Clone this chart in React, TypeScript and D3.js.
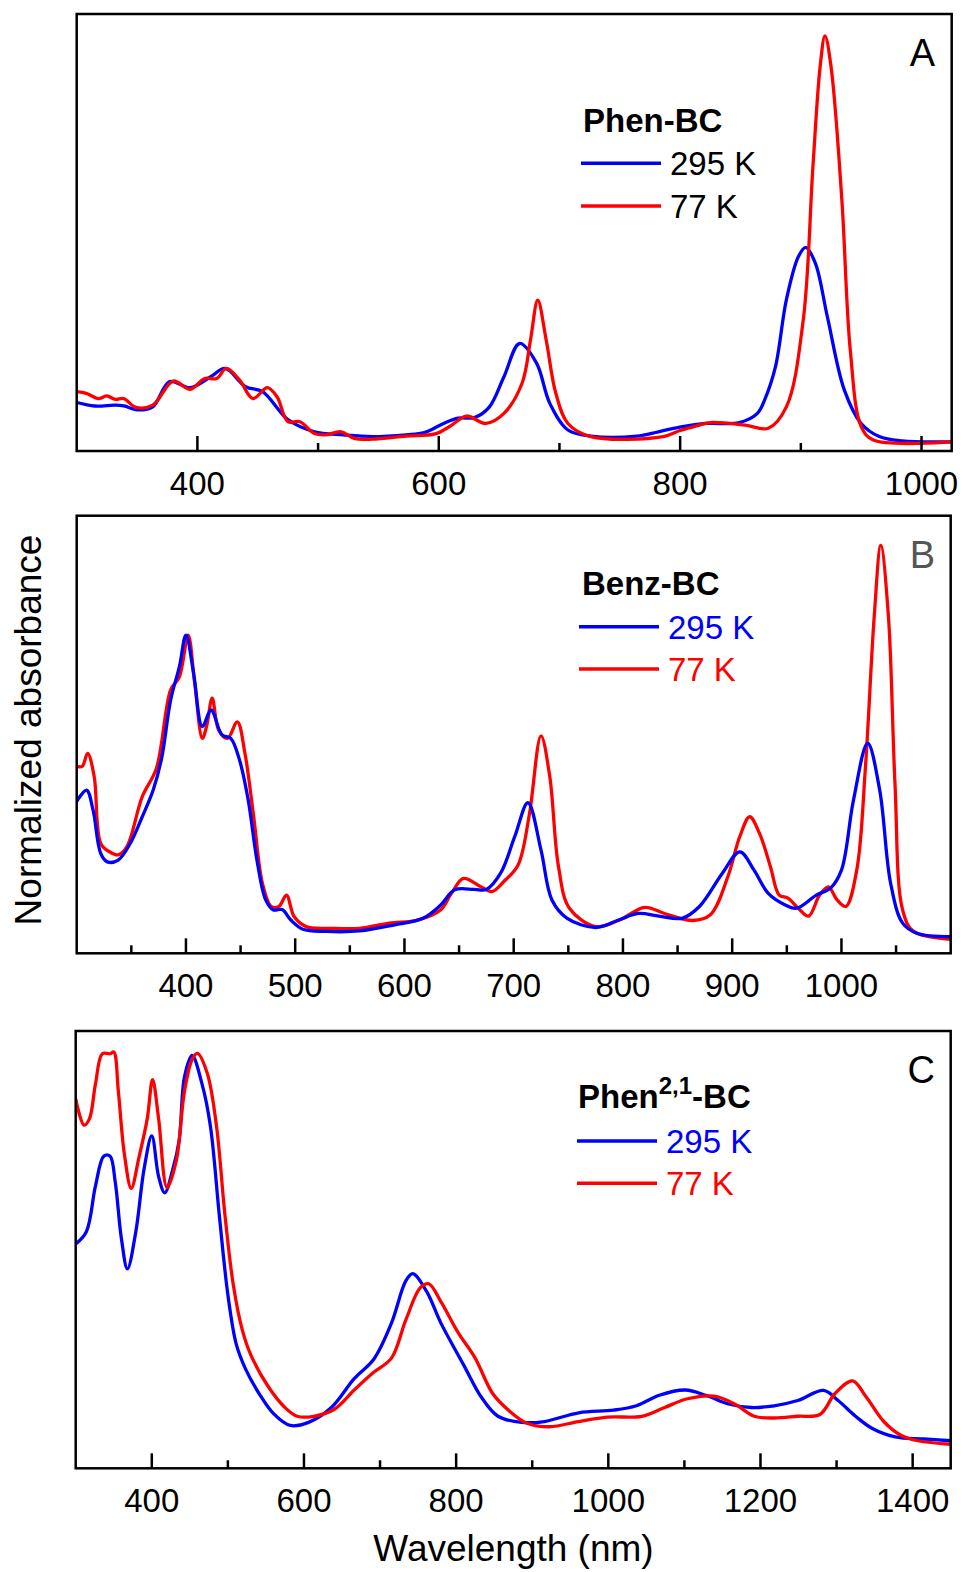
import React from "react";
import * as d3 from "d3";

type Pt = [number, number];

// Panel A: Phen-BC
const phen295: Pt[] = [[300,0.111],[315,0.103],[332,0.105],[339,0.103],[351,0.094],[363,0.101],[377,0.159],[394,0.145],[411,0.170],[423,0.189],[440,0.147],[454,0.136],[475,0.072],[497,0.044],[521,0.037],[545,0.033],[573,0.037],[588,0.042],[604,0.063],[616,0.075],[630,0.077],[642,0.101],[654,0.170],[667,0.246],[681,0.201],[692,0.109],[707,0.048],[726,0.034],[764,0.034],[782,0.044],[802,0.056],[821,0.063],[849,0.065],[864,0.086],[870,0.117],[879,0.193],[888,0.346],[898,0.445],[904,0.466],[912,0.43],[922,0.307],[936,0.14],[950,0.063],[965,0.033],[984,0.023],[1025,0.021]];
const phen77: Pt[] = [[300,0.136],[308,0.132],[318,0.12],[325,0.126],[332,0.118],[339,0.12],[349,0.10],[363,0.105],[380,0.16],[394,0.141],[406,0.166],[416,0.166],[424,0.189],[435,0.162],[446,0.12],[458,0.145],[466,0.124],[475,0.067],[485,0.067],[497,0.040],[506,0.037],[519,0.044],[530,0.029],[545,0.027],[573,0.034],[597,0.039],[609,0.056],[623,0.08],[639,0.063],[654,0.086],[669,0.155],[676,0.254],[682,0.345],[689,0.254],[697,0.132],[707,0.063],[726,0.033],[786,0.033],[800,0.047],[812,0.056],[825,0.065],[854,0.059],[873,0.052],[888,0.101],[902,0.3],[910,0.65],[916,0.88],[920,0.95],[925,0.88],[934,0.574],[941,0.23],[950,0.056],[960,0.025],[1025,0.021]];

// Panel B: Benz-BC
const benz295: Pt[] = [[300,0.347],[309,0.373],[315,0.327],[322,0.228],[328,0.209],[338,0.213],[349,0.251],[360,0.312],[370,0.373],[378,0.449],[386,0.579],[394,0.655],[400,0.727],[407,0.64],[415,0.518],[423,0.556],[433,0.499],[441,0.491],[449,0.442],[457,0.35],[465,0.213],[473,0.122],[480,0.099],[488,0.10],[496,0.076],[507,0.055],[528,0.05],[559,0.051],[591,0.065],[617,0.08],[633,0.11],[646,0.145],[664,0.146],[675,0.146],[688,0.183],[701,0.267],[713,0.344],[725,0.236],[735,0.122],[749,0.08],[775,0.059],[796,0.076],[814,0.091],[833,0.085],[854,0.08],[870,0.107],[891,0.183],[907,0.232],[920,0.19],[933,0.137],[949,0.11],[959,0.103],[977,0.133],[990,0.149],[1000,0.19],[1011,0.35],[1024,0.48],[1035,0.373],[1045,0.16],[1056,0.069],[1069,0.046],[1100,0.038]];
const benz77: Pt[] = [[300,0.427],[305,0.427],[310,0.457],[316,0.404],[322,0.251],[330,0.232],[338,0.225],[346,0.244],[360,0.358],[373,0.423],[386,0.602],[394,0.632],[402,0.727],[408,0.617],[415,0.491],[419,0.52],[424,0.583],[430,0.51],[438,0.491],[447,0.529],[454,0.457],[462,0.312],[470,0.16],[478,0.107],[485,0.107],[492,0.133],[499,0.084],[510,0.061],[533,0.057],[559,0.057],[586,0.069],[612,0.076],[633,0.099],[643,0.137],[654,0.171],[670,0.152],[680,0.141],[691,0.164],[704,0.202],[714,0.312],[725,0.497],[733,0.404],[741,0.198],[751,0.103],[775,0.061],[796,0.075],[820,0.105],[838,0.091],[864,0.075],[880,0.088],[896,0.175],[907,0.267],[916,0.312],[925,0.274],[935,0.198],[943,0.133],[951,0.126],[962,0.099],[970,0.085],[980,0.133],[988,0.152],[996,0.122],[1004,0.107],[1014,0.19],[1022,0.427],[1030,0.77],[1036,0.932],[1043,0.77],[1049,0.388],[1056,0.099],[1066,0.05],[1100,0.032]];

// Panel C: Phen2,1-BC
const phen21_295: Pt[] = [[300,0.513],[314,0.541],[326,0.646],[337,0.714],[345,0.714],[352,0.654],[360,0.526],[368,0.456],[379,0.541],[390,0.686],[400,0.76],[409,0.667],[417,0.63],[428,0.686],[436,0.75],[443,0.895],[453,0.944],[466,0.879],[477,0.783],[489,0.574],[500,0.397],[511,0.284],[523,0.228],[541,0.171],[560,0.125],[582,0.098],[606,0.105],[636,0.139],[666,0.205],[692,0.25],[715,0.332],[734,0.429],[743,0.445],[761,0.405],[780,0.332],[810,0.236],[833,0.163],[855,0.119],[886,0.105],[916,0.107],[961,0.127],[1007,0.133],[1037,0.143],[1067,0.167],[1101,0.179],[1128,0.167],[1158,0.147],[1188,0.139],[1218,0.143],[1249,0.155],[1283,0.178],[1302,0.155],[1325,0.119],[1347,0.091],[1377,0.072],[1415,0.067],[1450,0.063]];
const phen21_77: Pt[] = [[300,0.845],[311,0.785],[318,0.799],[326,0.879],[335,0.948],[345,0.948],[350,0.952],[356,0.863],[364,0.718],[373,0.64],[383,0.71],[394,0.799],[401,0.889],[409,0.799],[420,0.642],[432,0.702],[443,0.863],[453,0.935],[460,0.949],[473,0.903],[485,0.783],[496,0.582],[507,0.421],[519,0.316],[530,0.26],[553,0.187],[575,0.139],[591,0.119],[613,0.119],[640,0.135],[666,0.179],[692,0.22],[715,0.252],[734,0.34],[753,0.413],[764,0.422],[780,0.381],[802,0.312],[825,0.252],[848,0.171],[870,0.131],[893,0.103],[923,0.095],[961,0.107],[999,0.117],[1044,0.119],[1074,0.139],[1104,0.159],[1139,0.165],[1166,0.147],[1192,0.119],[1218,0.115],[1249,0.119],[1278,0.123],[1298,0.171],[1321,0.2],[1339,0.163],[1362,0.107],[1385,0.075],[1407,0.063],[1450,0.055]];

const domA = [300, 1025];
const domB = [300, 1100];
const domC = [300, 1450];
const majorA = [400, 600, 800, 1000];
const minorA = [500, 700, 900];
const majorB = [400, 500, 600, 700, 800, 900, 1000];
const minorB = [350, 450, 550, 650, 750, 850, 950, 1050];
const majorC = [400, 600, 800, 1000, 1200, 1400];
const minorC = [500, 700, 900, 1100, 1300];

const BLUE = "#0000ff";
const RED = "#ff0000";
const FONT = "'Liberation Sans', Arial, sans-serif";

interface PanelProps {
  id: string;
  x0: number; x1: number; y0: number; y1: number;
  domain: number[];
  major: number[]; minor: number[];
  blue: Pt[]; red: Pt[];
  redOnTop: boolean;
  letter: string; letterColor: string;
  legend: { tx: number; ty: number; lx0: number; lx1: number; ly1: number; ly2: number; textX: number; colored: boolean; title: React.ReactNode };
}

function Panel(p: PanelProps) {
  const x = d3.scaleLinear().domain(p.domain).range([p.x0, p.x1]);
  const y = d3.scaleLinear().domain([0, 1]).range([p.y1, p.y0]);
  const line = d3.line<Pt>().x(d => x(d[0])).y(d => y(d[1])).curve(d3.curveCatmullRom.alpha(0.5));
  const clipId = "clip-" + p.id;
  const blueEl = <path d={line(p.blue) || ""} fill="none" stroke={BLUE} strokeWidth={3.3} strokeLinejoin="round" clipPath={`url(#${clipId})`} />;
  const redEl = <path d={line(p.red) || ""} fill="none" stroke={RED} strokeWidth={3.3} strokeLinejoin="round" clipPath={`url(#${clipId})`} />;
  const L = p.legend;
  return (
    <g>
      <defs>
        <clipPath id={clipId}>
          <rect x={p.x0} y={p.y0} width={p.x1 - p.x0} height={p.y1 - p.y0} />
        </clipPath>
      </defs>
      {p.redOnTop ? <>{blueEl}{redEl}</> : <>{redEl}{blueEl}</>}
      <rect x={p.x0} y={p.y0} width={p.x1 - p.x0} height={p.y1 - p.y0} fill="none" stroke="#000" strokeWidth={2.5} />
      {p.major.map(t => (
        <g key={"M" + t}>
          <line x1={x(t)} x2={x(t)} y1={p.y1} y2={p.y1 - 15} stroke="#000" strokeWidth={2.5} />
          <text x={x(t)} y={p.y1 + 44} textAnchor="middle" fontSize={33} fontFamily={FONT} fill="#000">{t}</text>
        </g>
      ))}
      {p.minor.map(t => (
        <line key={"m" + t} x1={x(t)} x2={x(t)} y1={p.y1} y2={p.y1 - 8} stroke="#000" strokeWidth={2.5} />
      ))}
      <text x={935} y={p.y0 + 52} textAnchor="end" fontSize={38} fontFamily={FONT} fill={p.letterColor}>{p.letter}</text>
      <text x={L.tx} y={L.ty} fontSize={33} fontWeight="bold" fontFamily={FONT} fill="#000">{L.title}</text>
      <line x1={L.lx0} x2={L.lx1} y1={L.ly1} y2={L.ly1} stroke={BLUE} strokeWidth={3.5} />
      <text x={L.textX} y={L.ly1 + 12} fontSize={33} fontFamily={FONT} fill={L.colored ? BLUE : "#000"}>295 K</text>
      <line x1={L.lx0} x2={L.lx1} y1={L.ly2} y2={L.ly2} stroke={RED} strokeWidth={3.5} />
      <text x={L.textX} y={L.ly2 + 12} fontSize={33} fontFamily={FONT} fill={L.colored ? RED : "#000"}>77 K</text>
    </g>
  );
}

export default function App() {
  return (
    <svg width={963} height={1572} style={{ position: "absolute", left: 0, top: 0, background: "#fff" }}>
      <rect x={0} y={0} width={963} height={1572} fill="#fff" />
      <Panel id="A" x0={76.7} x1={951.7} y0={14} y1={451} domain={domA} major={majorA} minor={minorA}
        blue={phen295} red={phen77} redOnTop={true} letter="A" letterColor="#000"
        legend={{ tx: 583, ty: 132, lx0: 581, lx1: 661, ly1: 163.3, ly2: 206, textX: 670, colored: false, title: "Phen-BC" }} />
      <Panel id="B" x0={76.7} x1={950.7} y0={515.7} y1={953.3} domain={domB} major={majorB} minor={minorB}
        blue={benz295} red={benz77} redOnTop={false} letter="B" letterColor="#555"
        legend={{ tx: 582, ty: 595, lx0: 579, lx1: 659, ly1: 626.7, ly2: 669, textX: 668, colored: true, title: "Benz-BC" }} />
      <Panel id="C" x0={75.7} x1={950.7} y0={1031} y1={1468.3} domain={domC} major={majorC} minor={minorC}
        blue={phen21_295} red={phen21_77} redOnTop={true} letter="C" letterColor="#000"
        legend={{ tx: 578, ty: 1108, lx0: 577, lx1: 657, ly1: 1141, ly2: 1183.3, textX: 666, colored: true,
          title: <>Phen<tspan fontSize={24} dy={-14}>2,1</tspan><tspan dy={14}>-BC</tspan></> }} />
      <text transform="translate(41,730) rotate(-90)" textAnchor="middle" fontSize={37} fontFamily={FONT} fill="#000">Normalized absorbance</text>
      <text x={513.5} y={1561} textAnchor="middle" fontSize={37} fontFamily={FONT} fill="#000">Wavelength (nm)</text>
    </svg>
  );
}
